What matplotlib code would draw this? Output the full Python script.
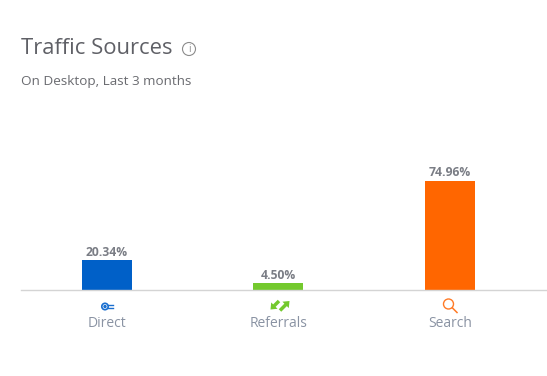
import numpy as np
import matplotlib
matplotlib.use("Agg")
import matplotlib.pyplot as plt
from matplotlib.patches import Circle, FancyArrow

categories = ["Direct", "Referrals", "Search"]
shares = [20.34, 4.50, 74.96]
value_labels = ["20.34%", "4.50%", "74.96%"]
colors = ["#0060c8", "#74c92e", "#ff6600"]

plt.rcParams['font.family'] = ['Open Sans', 'DejaVu Sans']

W, H = 547, 376
fig = plt.figure(figsize=(W/100, H/100), dpi=100)
ax = fig.add_axes([21/W, 1-290/H, (W-21)/W, 190/H])

x = np.arange(3)
ax.bar(x, shares, width=50/171.5, color=colors)
for i in x:
    ax.text(i, shares[i]+1.2, value_labels[i], ha='center', va='bottom',
            fontsize=8.7, fontweight='bold', color='#7a7d85')

ax.set_xlim(-0.5015, 2.566)
ax.set_ylim(0, 190/1.455)
for s in ['top', 'left', 'right']:
    ax.spines[s].set_visible(False)
ax.spines['bottom'].set_color('#d4d4d4')
ax.spines['bottom'].set_linewidth(1)
ax.set_yticks([])
ax.set_xticks(x)
ax.set_xticklabels(categories, fontsize=10, color='#8a93a3')
ax.tick_params(axis='x', length=0, pad=19)

fig.text(21/W, 1-48/H, "Traffic Sources", fontsize=15.8, color='#5f6066', va='center')
fig.text(21/W, 1-82/H, "On Desktop, Last 3 months", fontsize=9.7, color='#6a6b70', va='center')

# overlay in pixel coords for the little icons
ov = fig.add_axes([0, 0, 1, 1])
ov.set_xlim(0, W)
ov.set_ylim(H, 0)
ov.axis('off')

# info icon
ov.add_patch(Circle((189, 49), 6.5, fill=False, ec='#8c8c8c', lw=0.8))
ov.text(189, 49, "i", fontsize=7, color='#8c8c8c', ha='center', va='center')

# direct icon
ov.add_patch(Circle((105, 306.5), 3.2, fill=False, ec='#1a6fd0', lw=1.2))
ov.add_patch(Circle((105, 306.5), 1, color='#1a6fd0'))
ov.plot([108, 113], [305, 305], color='#1a6fd0', lw=1)
ov.plot([108, 113], [308, 308], color='#1a6fd0', lw=1)

# referrals icon
ov.add_patch(FancyArrow(279, 301, -8.5, 8.5, width=3.5, head_width=9, head_length=5.5,
                        length_includes_head=True, color='#74c92e', lw=0))
ov.add_patch(FancyArrow(280, 310.5, 9.5, -9.5, width=3.5, head_width=9, head_length=5.5,
                        length_includes_head=True, color='#74c92e', lw=0))

# search icon
ov.add_patch(Circle((448.5, 304), 5, fill=False, ec='#ff7a26', lw=1))
ov.plot([452.5, 457], [308, 312.5], color='#ff7a26', lw=1.1)

fig.savefig("out.png", dpi=100)
